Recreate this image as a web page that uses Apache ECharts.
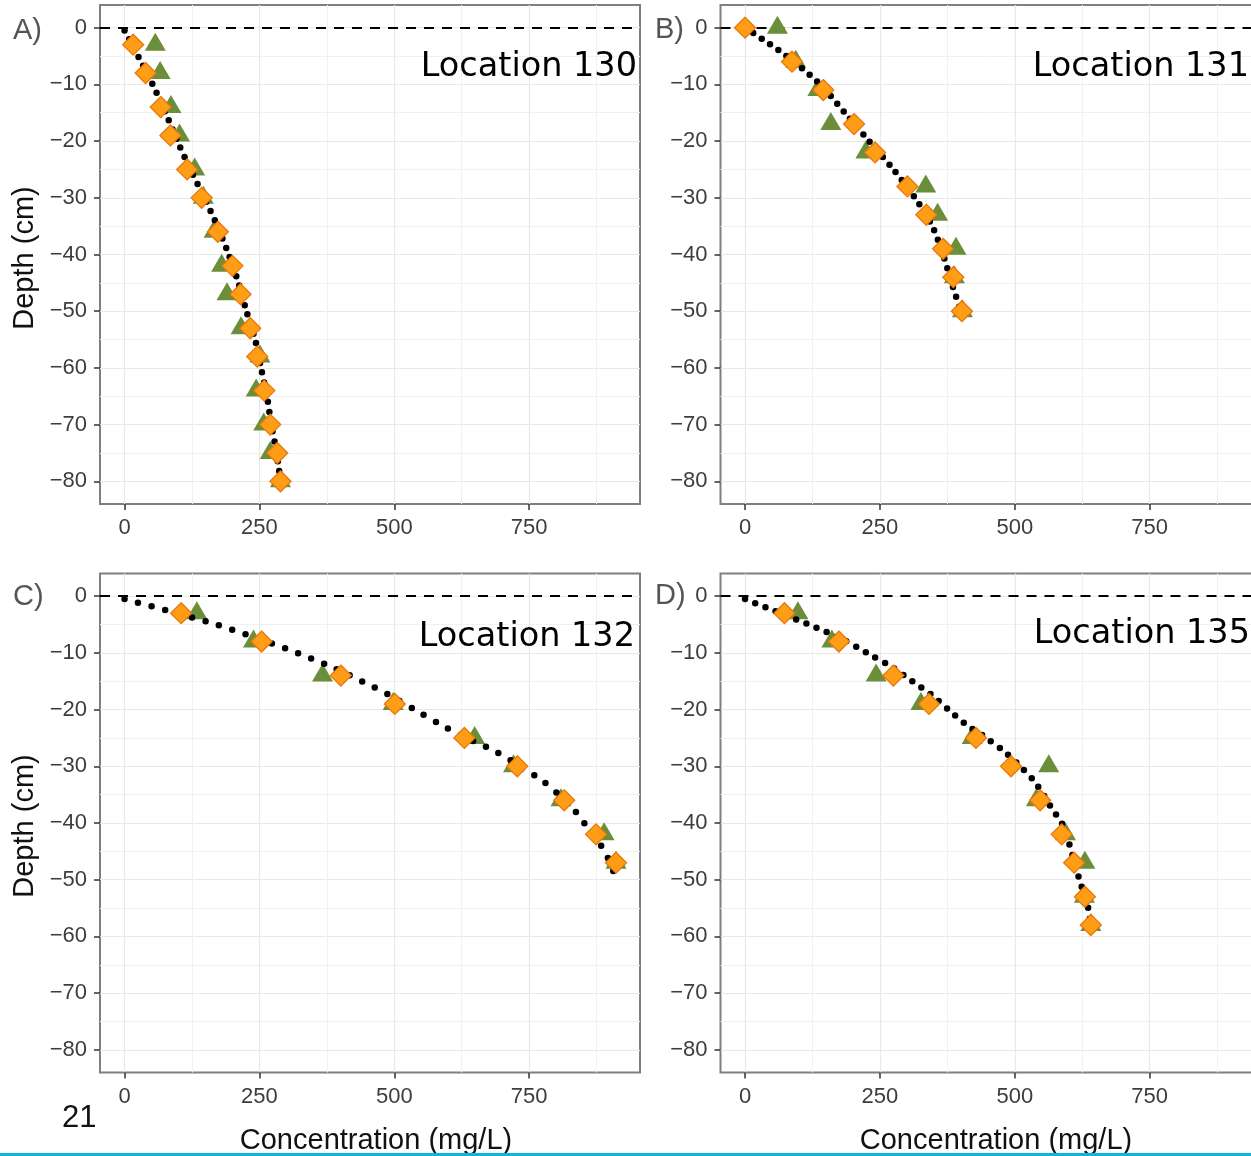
<!DOCTYPE html>
<html>
<head>
<meta charset="utf-8">
<script src="https://cdn.jsdelivr.net/npm/echarts@6/dist/echarts.min.js"></script>
<style>
  html, body { margin: 0; padding: 0; background: #ffffff; }
  #chart { width: 1251px; height: 1156px; }
</style>
</head>
<body>
<div id="chart"></div>
<script>
// Concentration depth profiles at four sampling locations.
// Orange diamonds and green triangles are measured values, the dotted line is the fitted profile.

const xTicks = [0, 250, 500, 750];
const xMinorTicks = [125, 375, 625, 875];
const yTicks = [0, -10, -20, -30, -40, -50, -60, -70, -80];
const yMinorTicks = [-5, -15, -25, -35, -45, -55, -65, -75];

// Location 130
const depth130 = [-3, -8, -14, -19, -25, -30, -36, -42, -47, -53, -58, -64, -70, -75, -80];
const diamond130 = [16, 39, 67, 85, 116, 143, 173, 200, 215, 233, 246, 259, 270, 283, 289];
const triangle130 = [57, 66, 86, 102, 130, 146, 166, 180, 190, 216, 251, 244, 258, 270, 289];
const fitDepth130 = [-0.5, -5, -10, -15, -20, -25, -30, -35, -40, -45, -50, -55, -60, -65, -70, -75, -80];
const fitConc130 = [0, 25, 52, 76, 98, 122, 148, 172, 193, 211, 226, 242, 253, 264, 272, 282, 289];

// Location 131
const depth131 = [0, -6, -11, -17, -22, -28, -33, -39, -44, -50];
const diamond131 = [0, 87, 145, 202, 241, 301, 336, 367, 386, 402];
const triangle131 = [60, 94, 135, 159, 224, 335, 357, 391, 388, 403];
const fitDepth131 = [0, -5, -10, -15, -20, -25, -30, -35, -40, -45, -50, -52.5];
const fitConc131 = [0, 77, 139, 185, 230, 275, 315, 347, 367, 383, 399, 402];

// Location 132
const depth132 = [-3, -8, -14, -19, -25, -30, -36, -42, -47];
const diamond132 = [105, 254, 401, 501, 630, 728, 815, 874, 911];
const triangle132 = [134, 239, 367, 498, 649, 721, 809, 889, 911];
const fitDepth132 = [-0.5, -2.5, -5, -7.5, -10, -12.5, -15, -17.5, -20, -22.5, -25, -27.5, -30, -32.5, -35, -37.5, -40, -42.5, -45, -47.5, -49.5];
const fitConc132 = [0, 77, 170, 248, 320, 384, 440, 492, 538, 583, 634, 690, 733, 774, 805, 832, 852, 872, 890, 902, 910];

// Location 135
const depth135 = [-3, -8, -14, -19, -25, -30, -36, -42, -47, -53, -58];
const diamond135 = [73, 174, 275, 341, 428, 493, 547, 587, 610, 630, 641];
const triangle135 = [98, 161, 243, 326, 421, 563, 540, 594, 630, 629, 641];
const fitDepth135 = [-0.5, -2.5, -5, -7.5, -10, -12.5, -15, -17.5, -20, -22.5, -25, -27.5, -30, -32.5, -35, -37.5, -40, -42.5, -45, -47.5, -50, -52.5, -55, -58.5];
const fitConc135 = [0, 52, 118, 178, 226, 272, 310, 347, 377, 408, 447, 482, 510, 535, 553, 569, 587, 597, 605, 612, 620, 628, 636, 641];

const panelLetters = ['A)', 'B)', 'C)', 'D)'];
const locationNames = ['Location 130', 'Location 131', 'Location 132', 'Location 135'];
const yAxisTitle = 'Depth (cm)';
const xAxisTitle = 'Concentration (mg/L)';
const pageNumber = '21';

const panels = [
  { depth: depth130, dia: diamond130, tri: triangle130, fd: fitDepth130, fc: fitConc130,
    left: 100, top: 5, gap: 10, letterAt: [13, 31], nameAt: [637, 67] },
  { depth: depth131, dia: diamond131, tri: triangle131, fd: fitDepth131, fc: fitConc131,
    left: 720.5, top: 5, gap: 10, letterAt: [655, 30], nameAt: [1249, 67] },
  { depth: depth132, dia: diamond132, tri: triangle132, fd: fitDepth132, fc: fitConc132,
    left: 100, top: 573.5, gap: 14, letterAt: [13, 597], nameAt: [635, 637] },
  { depth: depth135, dia: diamond135, tri: triangle135, fd: fitDepth135, fc: fitConc135,
    left: 720.5, top: 573.5, gap: 11, letterAt: [655, 596], nameAt: [1250, 634] }
];

const SANS = '"Liberation Sans", Arial, Helvetica, sans-serif';
const VERD = '"DejaVu Sans", Verdana, sans-serif';
const fmt = v => (v < 0 ? '\u2212' + Math.abs(v) : String(v));
const pairs = (xs, ys) => xs.map((x, k) => [x, ys[k]]);

const grids = [], xAxes = [], yAxes = [], series = [], graphics = [];

panels.forEach((p, i) => {
  grids.push({
    left: p.left, top: p.top, width: 540, height: 499,
    show: true, backgroundColor: '#ffffff', borderColor: '#7f7f7f', borderWidth: 2,
    containLabel: false, outerBoundsMode: 'none'
  });

  // major x axis with ticks, labels and major grid lines
  xAxes.push({
    type: 'value', gridIndex: i, min: -45.5, max: 955.5, position: 'bottom',
    axisLine: { show: false, onZero: false },
    axisTick: { show: true, customValues: xTicks, length: 6, lineStyle: { color: '#333333', width: 1.5 } },
    axisLabel: { show: true, customValues: xTicks, formatter: fmt, margin: 13,
      color: '#3d3d3d', fontSize: 22, fontFamily: SANS },
    splitLine: { show: true, lineStyle: { color: '#e8e8e8', width: 1.2 } },
    minorTick: { show: false }, minorSplitLine: { show: false }
  });
  // minor x grid lines
  xAxes.push({
    type: 'value', gridIndex: i, min: -45.5, max: 955.5, position: 'bottom',
    axisLine: { show: false, onZero: false },
    axisTick: { show: false, customValues: xMinorTicks },
    axisLabel: { show: false, customValues: xMinorTicks },
    splitLine: { show: true, lineStyle: { color: '#f1f1f1', width: 1 } }
  });
  // major y axis
  yAxes.push({
    type: 'value', gridIndex: i, min: -84, max: 4, position: 'left',
    axisLine: { show: false, onZero: false },
    axisTick: { show: true, customValues: yTicks, length: 6, lineStyle: { color: '#333333', width: 1.5 } },
    axisLabel: { show: true, customValues: yTicks, formatter: fmt, margin: 13,
      color: '#3d3d3d', fontSize: 22, fontFamily: SANS },
    splitLine: { show: true, lineStyle: { color: '#e8e8e8', width: 1.2 } },
    minorTick: { show: false }, minorSplitLine: { show: false }
  });
  // minor y grid lines
  yAxes.push({
    type: 'value', gridIndex: i, min: -84, max: 4, position: 'left',
    axisLine: { show: false, onZero: false },
    axisTick: { show: false, customValues: yMinorTicks },
    axisLabel: { show: false, customValues: yMinorTicks },
    splitLine: { show: true, lineStyle: { color: '#f1f1f1', width: 1 } }
  });

  const ax = 2 * i;
  series.push({
    type: 'scatter', xAxisIndex: ax, yAxisIndex: ax, z: 3, silent: true,
    data: pairs(p.tri, p.depth),
    symbol: 'triangle', symbolSize: [21, 18], symbolOffset: [0, -3],
    itemStyle: { color: '#6b8e3a', opacity: 1 },
    markLine: {
      silent: true, z: 2, symbol: ['none', 'none'], label: { show: false },
      lineStyle: { color: '#000000', type: [10, 8], width: 2 },
      emphasis: { disabled: true },
      data: [{ yAxis: 0 }]
    }
  });
  series.push({
    type: 'line', xAxisIndex: ax, yAxisIndex: ax, z: 4, silent: true,
    data: pairs(p.fc, p.fd), smooth: 0.3, showSymbol: false, symbol: 'none',
    lineStyle: { color: '#000000', width: 6.5, type: [0, p.gap], cap: 'round' }
  });
  series.push({
    type: 'scatter', xAxisIndex: ax, yAxisIndex: ax, z: 5, silent: true,
    data: pairs(p.dia, p.depth),
    symbol: 'diamond', symbolSize: [21, 21],
    itemStyle: { color: '#ff9d17', borderColor: '#e8780c', borderWidth: 1.3, opacity: 1 }
  });

  graphics.push({
    type: 'text', x: p.letterAt[0], y: p.letterAt[1], z: 50, silent: true,
    style: { text: panelLetters[i], fill: '#555555', font: '29px ' + SANS,
      align: 'left', verticalAlign: 'middle' }
  });
  graphics.push({
    type: 'text', x: p.nameAt[0], y: p.nameAt[1], z: 50, silent: true,
    style: { text: locationNames[i], fill: '#000000', font: '33.5px ' + VERD,
      align: 'right', verticalAlign: 'middle' }
  });
});

// axis titles shared by each row / column
[258, 826].forEach(cy => graphics.push({
  type: 'text', x: 24.5, y: cy, rotation: Math.PI / 2, z: 50, silent: true,
  style: { text: yAxisTitle, fill: '#111111', font: '29px ' + SANS, align: 'center', verticalAlign: 'middle' }
}));
[376, 996].forEach(cx => graphics.push({
  type: 'text', x: cx, y: 1141, z: 50, silent: true,
  style: { text: xAxisTitle, fill: '#111111', font: '29px ' + SANS, align: 'center', verticalAlign: 'middle' }
}));
graphics.push({
  type: 'text', x: 62, y: 1118.5, z: 50, silent: true,
  style: { text: pageNumber, fill: '#111111', font: '31px ' + SANS, align: 'left', verticalAlign: 'middle' }
});
graphics.push({
  type: 'rect', z: 60, silent: true,
  shape: { x: 0, y: 1153, width: 1251, height: 3 },
  style: { fill: '#10b2e2' }
});

const chart = echarts.init(document.getElementById('chart'), null, { renderer: 'canvas', width: 1251, height: 1156 });
chart.setOption({
  animation: false,
  backgroundColor: '#ffffff',
  grid: grids,
  xAxis: xAxes,
  yAxis: yAxes,
  series: series,
  graphic: { elements: graphics }
});
</script>
</body>
</html>
